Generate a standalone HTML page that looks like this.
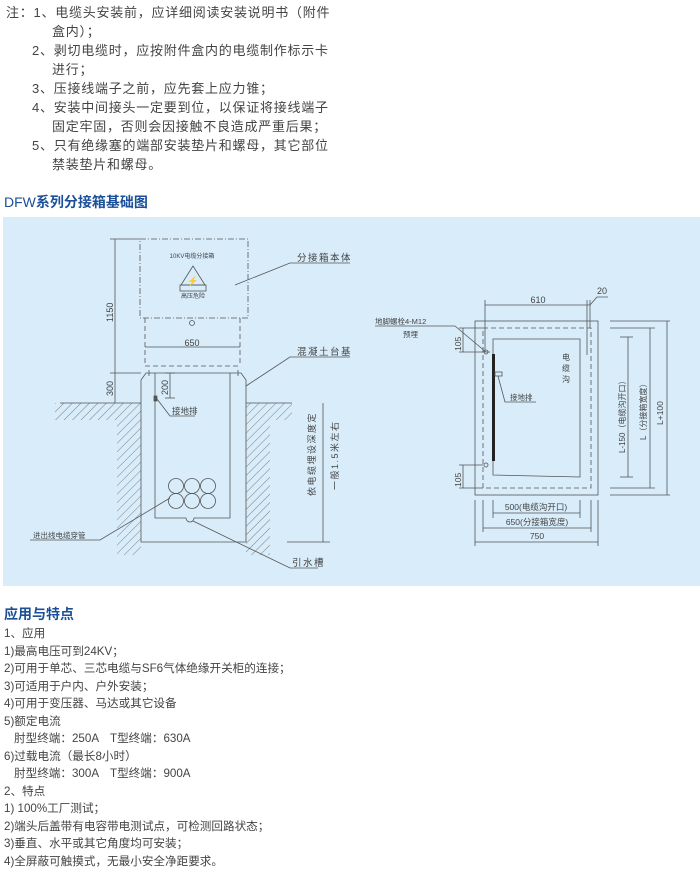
<!DOCTYPE html>
<html><head><meta charset="utf-8"><style>
body{margin:0;width:700px;height:893px;background:#fff;position:relative;overflow:hidden;font-family:"Liberation Sans","Noto Sans CJK SC",sans-serif;color:#444}
.t{position:absolute;white-space:nowrap;font-size:13px;letter-spacing:0.75px;line-height:19px}
.b{position:absolute;white-space:nowrap;font-size:11.6px;line-height:17.5px;color:#444}
.h{position:absolute;font-weight:bold;color:#1b4f98;font-size:14px;white-space:nowrap}
svg text{font-family:"Liberation Sans","Noto Sans CJK SC",sans-serif;fill:#444}
</style></head><body>
<div class="t" style="left:6px;top:3px">注：1、电缆头安装前，应详细阅读安装说明书（附件</div>
<div class="t" style="left:52px;top:22px">盒内）；</div>
<div class="t" style="left:32px;top:41px">2、剥切电缆时，应按附件盒内的电缆制作标示卡</div>
<div class="t" style="left:52px;top:60px">进行；</div>
<div class="t" style="left:32px;top:79px">3、压接线端子之前，应先套上应力锥；</div>
<div class="t" style="left:32px;top:98px">4、安装中间接头一定要到位，以保证将接线端子</div>
<div class="t" style="left:52px;top:117px">固定牢固，否则会因接触不良造成严重后果；</div>
<div class="t" style="left:32px;top:136px">5、只有绝缘塞的端部安装垫片和螺母，其它部位</div>
<div class="t" style="left:52px;top:155px">禁装垫片和螺母。</div>
<div class="h" style="left:4px;top:192px;font-weight:normal"><span style="font-weight:normal">DFW</span><b>系列分接箱基础图</b></div>
<div style="position:absolute;left:3px;top:217px;width:697px;height:369px;background:#d8ecfa"></div>
<svg style="position:absolute;left:0;top:0" width="700" height="893" viewBox="0 0 700 893">
<defs><pattern id="hp" width="6" height="6" patternUnits="userSpaceOnUse" patternTransform="rotate(45)"><line x1="0" y1="0" x2="0" y2="6" stroke="#666" stroke-width="0.8"/></pattern></defs>
<g stroke="#555" stroke-width="0.8" fill="none">
<path d="M55 403 H141 V555 H117 V420 H55 Z" fill="url(#hp)" stroke="none"/>
<path d="M246 403 H292 V420 H270 V555 H246 Z" fill="url(#hp)" stroke="none"/>
<line x1="60" y1="403" x2="141" y2="403"/><line x1="246" y1="403" x2="292" y2="403"/>
<rect x="140" y="239" width="108" height="79" stroke-dasharray="6,2,1,2"/>
<line x1="145" y1="318" x2="145" y2="366" stroke-dasharray="5,3"/>
<line x1="240" y1="318" x2="240" y2="366" stroke-dasharray="5,3"/>
<line x1="145" y1="366" x2="240" y2="366" stroke-dasharray="5,3"/>
<line x1="145" y1="347" x2="240" y2="347"/>
<circle cx="192" cy="323" r="2.5"/>
<polygon points="193,266 181,285 205,285"/>
<rect x="180" y="285" width="26" height="6"/>
<path d="M146 373 H241 L246 380 V542 H141 V380 Z" fill="#d8ecfa"/>
<path d="M155 373 V518 H186 A4 4 0 0 0 194 518 H230 V373"/>
<line x1="149" y1="370" x2="149" y2="376"/><line x1="238" y1="370" x2="238" y2="376"/>
<g stroke="#555"><circle cx="176" cy="486" r="7.5"/><circle cx="192" cy="486" r="7.5"/><circle cx="208" cy="486" r="7.5"/><circle cx="176" cy="501" r="7.5"/><circle cx="192" cy="501" r="7.5"/><circle cx="208" cy="501" r="7.5"/></g>
<line x1="115" y1="239" x2="115" y2="403"/><line x1="110" y1="239" x2="140" y2="239"/><line x1="110" y1="373" x2="141" y2="373"/>
<line x1="170" y1="373" x2="170" y2="398"/><line x1="165" y1="373" x2="175" y2="373"/><line x1="165" y1="398" x2="175" y2="398"/>
<rect x="154" y="396" width="3" height="5" fill="#555"/>
<polyline points="157,399 170,416 195,416"/>
<line x1="323" y1="403" x2="323" y2="542"/><line x1="287" y1="542" x2="330" y2="542"/>
<polyline points="170,498 100,540 30,540"/>
<polyline points="193,521 290,568 318,568"/>
<polyline points="235,285 290,263 350,263"/>
<polyline points="246,386 290,357 350,357"/>
<rect x="475" y="321" width="123" height="174" fill="#d8ecfa"/>
<rect x="483" y="328" width="108" height="160" stroke-dasharray="5,3"/>
<path d="M493 339 H580 V477 L493 475 Z"/>
<rect x="492" y="354" width="3" height="107" fill="#222" stroke="none"/>
<rect x="495" y="372" width="7" height="4"/>
<polyline points="498,376 505,402 536,402"/>
<circle cx="486" cy="352" r="2"/><circle cx="486" cy="465" r="2"/>
<line x1="482" y1="352" x2="490" y2="352"/>
<line x1="485" y1="305" x2="590" y2="305"/><line x1="485" y1="300" x2="485" y2="350"/><line x1="590" y1="300" x2="590" y2="328"/><line x1="587" y1="300" x2="587" y2="355"/>
<polyline points="590,305 597,297 608,297"/>
<polyline points="486,352 455,326 375,326"/>
<line x1="463" y1="328" x2="463" y2="352"/><line x1="459" y1="328" x2="483" y2="328"/><line x1="459" y1="352" x2="483" y2="352"/>
<line x1="463" y1="465" x2="463" y2="488"/><line x1="459" y1="465" x2="483" y2="465"/><line x1="459" y1="488" x2="483" y2="488"/>
<line x1="628" y1="337" x2="628" y2="477"/><line x1="650" y1="328" x2="650" y2="488"/><line x1="667" y1="321" x2="667" y2="495"/>
<line x1="610" y1="321" x2="670" y2="321"/><line x1="610" y1="328" x2="655" y2="328"/><line x1="620" y1="337" x2="633" y2="337"/>
<line x1="620" y1="477" x2="633" y2="477"/><line x1="610" y1="488" x2="655" y2="488"/><line x1="610" y1="495" x2="670" y2="495"/>
<line x1="493" y1="500" x2="493" y2="518"/><line x1="580" y1="500" x2="580" y2="518"/>
<line x1="483" y1="500" x2="483" y2="532"/><line x1="591" y1="500" x2="591" y2="532"/>
<line x1="475" y1="500" x2="475" y2="546"/><line x1="598" y1="500" x2="598" y2="546"/>
<line x1="493" y1="513" x2="580" y2="513"/><line x1="483" y1="528" x2="591" y2="528"/><line x1="475" y1="542" x2="598" y2="542"/>
</g>
<g font-size="8.5">
<text x="192" y="346" text-anchor="middle" font-size="9">650</text>
<text x="192" y="258" text-anchor="middle" font-size="6">10KV电缆分接箱</text>
<text x="193" y="298" text-anchor="middle" font-size="6">高压危险</text>
<text x="193" y="284" text-anchor="middle" font-size="9" style="fill:#222">⚡</text>
<text transform="translate(113,322) rotate(-90)" font-size="9">1150</text>
<text transform="translate(113,396) rotate(-90)" font-size="9">300</text>
<text transform="translate(168,395) rotate(-90)" font-size="9">200</text>
<text x="172" y="414">接地排</text>
<text x="297" y="261" font-size="9.5" letter-spacing="1.5">分接箱本体</text>
<text x="297" y="355" font-size="9.5" letter-spacing="1.5">混凝土台基</text>
<text transform="translate(315,496) rotate(-90)" font-size="9" letter-spacing="1.5">依电缆埋设深度定</text>
<text transform="translate(338,490) rotate(-90)" font-size="9" letter-spacing="1.5">一般1.5米左右</text>
<text x="33" y="538" font-size="7.5">进出线电缆穿管</text>
<text x="292" y="566" font-size="9.5" letter-spacing="1.5">引水槽</text>
<text x="538" y="303" text-anchor="middle" font-size="9">610</text>
<text x="597" y="294" font-size="9">20</text>
<text x="375" y="324" font-size="7.5">地脚螺栓4-M12</text>
<text x="403" y="337" font-size="7.5">预埋</text>
<text transform="translate(461,351) rotate(-90)" font-size="8.5">105</text>
<text transform="translate(461,487) rotate(-90)" font-size="8.5">105</text>
<text x="510" y="400" font-size="7.5">接地排</text>
<text x="562" y="360" font-size="8">电</text><text x="562" y="371" font-size="8">缆</text><text x="562" y="382" font-size="8">沟</text>
<text transform="translate(625,453) rotate(-90)" font-size="8">L-150（电缆沟开口）</text>
<text transform="translate(646,440) rotate(-90)" font-size="8">L（分接箱宽度）</text>
<text transform="translate(663,425) rotate(-90)" font-size="8.5">L+100</text>
<text x="536" y="510" text-anchor="middle" font-size="8.5">500(电缆沟开口)</text>
<text x="537" y="525" text-anchor="middle" font-size="8.5">650(分接箱宽度)</text>
<text x="537" y="539" text-anchor="middle" font-size="8.5">750</text>
</g>
</svg>
<div class="h" style="left:4px;top:604px">应用与特点</div>
<div class="b" style="left:4px;top:625px">1、应用</div>
<div class="b" style="left:4px;top:643px">1)最高电压可到24KV；</div>
<div class="b" style="left:4px;top:660px">2)可用于单芯、三芯电缆与SF6气体绝缘开关柜的连接；</div>
<div class="b" style="left:4px;top:678px">3)可适用于户内、户外安装；</div>
<div class="b" style="left:4px;top:695px">4)可用于变压器、马达或其它设备</div>
<div class="b" style="left:4px;top:713px">5)额定电流</div>
<div class="b" style="left:14px;top:730px">肘型终端：250A　T型终端：630A</div>
<div class="b" style="left:4px;top:748px">6)过载电流（最长8小时）</div>
<div class="b" style="left:14px;top:765px">肘型终端：300A　T型终端：900A</div>
<div class="b" style="left:4px;top:783px">2、特点</div>
<div class="b" style="left:4px;top:800px">1) 100%工厂测试；</div>
<div class="b" style="left:4px;top:818px">2)端头后盖带有电容带电测试点，可检测回路状态；</div>
<div class="b" style="left:4px;top:835px">3)垂直、水平或其它角度均可安装；</div>
<div class="b" style="left:4px;top:853px">4)全屏蔽可触摸式，无最小安全净距要求。</div>
</body></html>
